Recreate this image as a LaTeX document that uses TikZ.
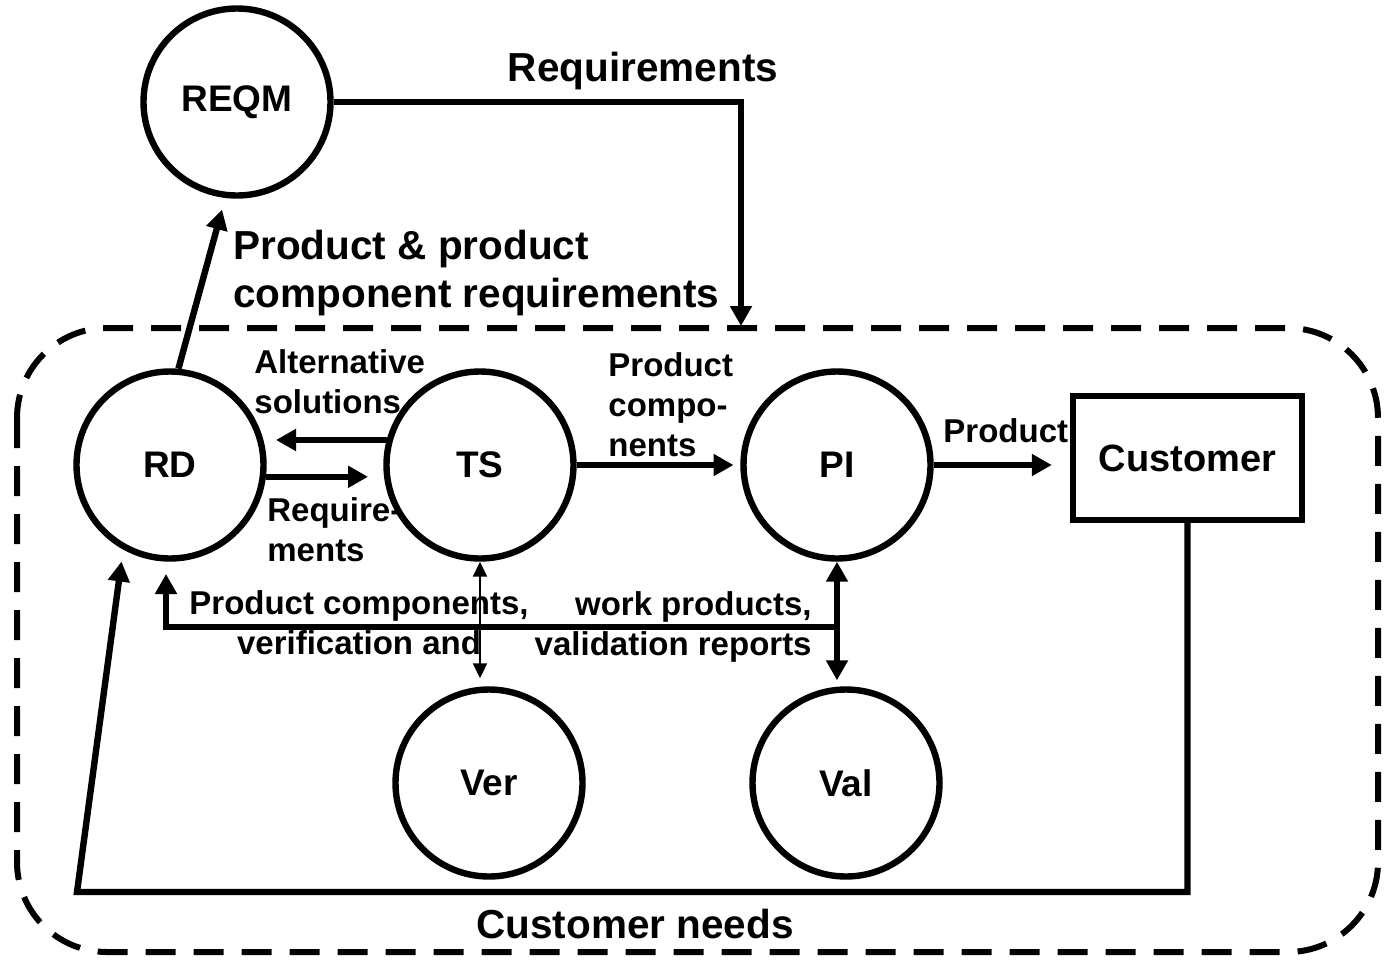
\documentclass[tikz,border=0pt]{standalone}
\usepackage{fontspec}
\setmainfont{Liberation Sans}
\usetikzlibrary{arrows.meta, calc}

\begin{document}
\begin{tikzpicture}[x=0.5pt, y=-0.5pt,
  process/.style={draw, circle, line width=3.2pt, minimum size=93.5pt, inner sep=0pt,
    font=\fontsize{18.5}{22}\selectfont\bfseries},
  flow/.style={line width=3.2pt, -{Triangle[length=10pt, width=10.5pt]}},
  twoway/.style={line width=3.2pt, {Triangle[length=10pt, width=10.5pt]}-{Triangle[length=10pt, width=10.5pt]}},
  thinway/.style={line width=1pt, {Triangle[length=7.5pt, width=7pt]}-{Triangle[length=7.5pt, width=7pt]}},
  biglabel/.style={inner sep=0pt, align=left, font=\fontsize{20.25}{24}\selectfont\bfseries},
  smalllabel/.style={inner sep=0pt, align=left, font=\fontsize{16.5}{20}\selectfont\bfseries}]
\useasboundingbox (0,0) rectangle (1385,959);
% Draw dashed boundary
\draw[line width=3pt, dash pattern=on 15pt off 9pt, rounded corners=45pt] (17,328) rectangle (1378,952);
% Draw processes
\node[process] (REQM) at (237,102) {REQM};
\node[process] (RD) at (170,465) {RD};
\node[process] (TS) at (480,465) {TS};
\node[process] (PI) at (837,465) {PI};
\node[process] (Ver) at (489,783) {Ver};
\node[process] (Val) at (846,783) {Val};
\node[draw, line width=3.2pt, minimum width=114.5pt, minimum height=62pt, inner sep=0pt,
  font=\fontsize{19}{23}\selectfont\bfseries] (Customer) at (1187.5,458) {Customer};
% Draw requirements flows
\coordinate (reqin) at (741,326);
\draw[flow] (REQM.east) -| (reqin);
\node[biglabel] (reqtext) at (643,71) {Requirements};
\draw[flow, shorten >=6pt] (RD.85) -- (REQM.263);
\node[biglabel, anchor=west] (pcrtext) at (233,273.5) {Product \& product\\component requirements};
% Draw flows between processes
\draw[flow, shorten >=6.3pt] (TS.165) -- (RD.15);
\node[smalllabel, anchor=west] (alttext) at (254,382) {Alternative\\solutions};
\draw[flow, shorten >=8pt] (RD.-7) -- (TS.187);
\node[smalllabel, anchor=west] (rqtext) at (267,530) {Require-\\ments};
\draw[flow, shorten >=3.4pt] (TS) -- (PI);
\node[smalllabel, anchor=west] (pctext) at (608,404.5) {Product\\compo-\\nents};
\draw[flow, shorten >=9pt] (PI.east) -- (PI.east -| Customer.west);
\node[smalllabel, anchor=west] (prtext) at (943,431) {Product};
% Draw verification and validation
\draw[thinway, shorten >=4pt] (TS.south) -- (TS.south |- Ver.north);
\draw[twoway, shorten >=3pt] (PI.south) -- (PI.south |- Val.north);
\coordinate (fbR) at (PI.south |- 0,627);
\coordinate (fbL) at (166,627);
\coordinate (rdin) at (166,574);
\draw[flow] (fbR) -- (fbL) -- (rdin);
\node[smalllabel, align=center] (pvtext) at (359,623) {Product components,\\verification and};
\node[smalllabel, align=right, anchor=east] (wptext) at (812,626.5) {work products,\\validation reports};
% Draw customer needs
\coordinate (cnR) at (Customer.south |- 0,892);
\coordinate (cnL) at (77,892);
\draw[flow, shorten >=6pt] (Customer.south) -- (cnR) -- (cnL) -- (RD.241);
\node[biglabel] (cntext) at (635,924) {Customer needs};
\end{tikzpicture}
\end{document}
